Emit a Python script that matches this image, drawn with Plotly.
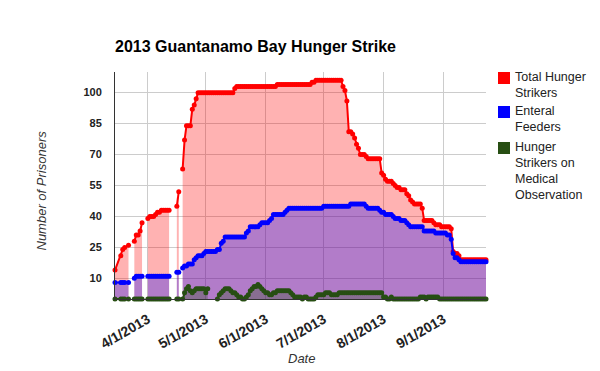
import plotly.graph_objects as go
import pandas as pd

# ---------------- data ----------------
early_dates = [
    "2013-03-15", "2013-03-18", "2013-03-19", "2013-03-20", "2013-03-22", "2013-03-23",
    "2013-03-25", "2013-03-26", "2013-03-27", "2013-03-28", "2013-03-29", "2013-03-30",
    "2013-04-01", "2013-04-02", "2013-04-03", "2013-04-04", "2013-04-05", "2013-04-06",
    "2013-04-07", "2013-04-08", "2013-04-09", "2013-04-10", "2013-04-11", "2013-04-12",
    "2013-04-13", "2013-04-16", "2013-04-17", "2013-04-18",
]
daily_dates = [d.strftime("%Y-%m-%d") for d in pd.date_range("2013-04-19", "2013-09-23")]
dates = early_dates + daily_dates

total_early = [14, 21, 24, 25, 26, None, 28, 31, 31, 33, 37, None,
               39, 40, 40, 40, 41, 42, 42, 43, 43, 43, 43, 43, None, 45, 52, None]
enteral_early = [8, 8, 8, 8, 8, None, 10, 11, 11, 11, 11, None,
                 11, 11, 11, 11, 11, 11, 11, 11, 11, 11, 11, 11, None, 13, 13, None]
medical_early = [0, 0, 0, 0, 0, None, 0, 0, 0, 0, 0, None,
                 0, 0, 0, 0, 0, 0, 0, 0, 0, 0, 0, 0, None, 0, 0, None]

total_apr = [63, 77, 84, 84, 84, 92, 94, 97, 100, 100, 100, 100]
total_may = [100, 100, 100, 100, 100, 100, 100, 100, 100, 100, 100, 100, 100, 100, 100, 102,
             103, 103, 103, 103, 103, 103, 103, 103, 103, 103, 103, 103, 103, 103, 103]
total_jun = [103, 103, 103, 103, 103, 103, 104, 104, 104, 104, 104, 104, 104, 104, 104, 104,
             104, 104, 104, 104, 104, 104, 104, 104, 105, 105, 106, 106, 106, 106]
total_jul = [106, 106, 106, 106, 106, 106, 106, 106, 106, 106, 103, 101, 96, 81, 81, 80,
             78, 75, 73, 70, 70, 70, 69, 68, 68, 68, 68, 68, 68, 68, 61]
total_aug = [60, 58, 57, 57, 57, 56, 55, 54, 54, 53, 53, 53, 51, 50, 48, 47,
             46, 46, 46, 46, 44, 38, 38, 38, 38, 38, 37, 36, 36, 36, 35]
total_sep = [35, 35, 35, 35, 34, 23, 22, 22, 21, 19, 19, 19, 19, 19, 19, 19,
             19, 19, 19, 19, 19, 19, 19]

enteral_apr = [15, 16, 16, 17, 17, 17, 19, 20, 21, 21, 21, 22]
enteral_may = [23, 23, 23, 23, 23, 23, 24, 24, 27, 28, 30, 30, 30, 30, 30, 30,
               30, 30, 30, 30, 30, 32, 33, 35, 35, 35, 35, 35, 36, 37, 37]
enteral_jun = [37, 37, 38, 39, 41, 41, 41, 41, 41, 41, 42, 43, 44, 44, 44, 44,
               44, 44, 44, 44, 44, 44, 44, 44, 44, 44, 44, 44, 44, 44]
enteral_jul = [45, 45, 45, 45, 45, 45, 45, 45, 45, 45, 45, 45, 45, 45, 46, 46,
               46, 46, 46, 46, 46, 46, 45, 44, 44, 44, 44, 44, 44, 43, 42]
enteral_aug = [42, 41, 41, 41, 41, 40, 39, 39, 39, 38, 38, 38, 37, 36, 35, 35,
               35, 35, 35, 35, 35, 33, 33, 33, 33, 33, 33, 32, 32, 32, 32]
enteral_sep = [32, 32, 31, 31, 29, 22, 20, 20, 19, 18, 18, 18, 18, 18, 18, 18,
               18, 18, 18, 18, 18, 18, 18]

medical_apr = [0, 3, 5, 6, 4, 3, 4, 5, 5, 5, 5, 5]
medical_may = [3, 5, None, None, None, None, 0, 2, 3, 4, 5, 5, 5, 4, 3, 3,
               2, 1, 1, 0, 0, 1, 2, 4, 5, 6, 6, 7, 6, 5, 4]
medical_jun = [3, 3, 2, 2, 3, 3, 4, 4, 4, 4, 4, 4, 4, 3, 2, 1,
               1, 1, 1, 0, 1, 1, 0, 0, 0, 0, 1, 2, 2, 2]
medical_jul = [2, 3, 3, 3, 2, 2, 2, 2, 3, 3, 3, 3, 3, 3, 3, 3,
               3, 3, 3, 3, 3, 3, 3, 3, 3, 3, 3, 3, 3, 3, 3]
medical_aug = [1, 1, 0, 0, 1, 0, 0, 0, 0, 0, 0, 0, 0, 0, 0, 0,
               0, 0, 0, 1, 1, 1, 0, 1, 1, 1, 1, 1, 1, 0, 0]
medical_sep = [0, 0, 0, 0, 0, 0, 0, 0, 0, 0, 0, 0, 0, 0, 0, 0,
               0, 0, 0, 0, 0, 0, 0]

total = total_early + total_apr + total_may + total_jun + total_jul + total_aug + total_sep
enteral = enteral_early + enteral_apr + enteral_may + enteral_jun + enteral_jul + enteral_aug + enteral_sep
medical = medical_early + medical_apr + medical_may + medical_jun + medical_jul + medical_aug + medical_sep

series_names = ["Total Hunger Strikers", "Enteral Feeders", "Hunger Strikers on Medical Observation"]
legend_lines = [["Total Hunger", "Strikers"], ["Enteral", "Feeders"],
                ["Hunger", "Strikers on", "Medical", "Observation"]]
series_colors = ["#ff0000", "#0000ff", "#274e13"]
fill_colors = ["rgba(255,0,0,0.3)", "rgba(0,0,255,0.3)", "rgba(39,78,19,0.3)"]

y_ticks = [10, 25, 40, 55, 70, 85, 100]
x_tick_vals = ["2013-04-01", "2013-05-01", "2013-06-01", "2013-07-01", "2013-08-01", "2013-09-01"]
x_tick_text = ["4/1/2013", "5/1/2013", "6/1/2013", "7/1/2013", "8/1/2013", "9/1/2013"]

# ---------------- figure ----------------
W, H = 600, 371
L, R, T, B = 115, 486, 72, 299


def px_x(p):
    return (p - L) / (R - L)


def px_y(p):
    return (B - p) / (B - T)


def split_segments(xs, ys):
    out, sx, sy = [], [], []
    for x, y in zip(xs, ys):
        if y is None:
            if sx:
                out.append((sx, sy))
            sx, sy = [], []
        else:
            sx.append(x)
            sy.append(y)
    if sx:
        out.append((sx, sy))
    return out


fig = go.Figure()
for vals, name, col, fcol in zip([total, enteral, medical], series_names, series_colors, fill_colors):
    for sx, sy in split_segments(dates, vals):
        fig.add_trace(go.Scatter(
            x=sx, y=sy, name=name, mode="lines+markers",
            line=dict(color=col, width=2),
            marker=dict(color=col, size=5),
            fill="tozeroy", fillcolor=fcol,
            showlegend=False, cliponaxis=False, hoverinfo="skip",
        ))

font_family = "Liberation Sans, Arial, sans-serif"

fig.update_layout(
    width=W, height=H,
    margin=dict(l=L, r=W - R, t=T, b=H - B),
    paper_bgcolor="white", plot_bgcolor="white",
    showlegend=False,
    title=dict(text="2013 Guantanamo Bay Hunger Strike",
               font=dict(family=font_family, size=16, color="#000000", weight="bold"),
               xref="paper", x=0, xanchor="left",
               yref="container", y=1 - 46 / H, yanchor="middle"),
    xaxis=dict(type="date", range=["2013-03-15", "2013-09-23"],
               tickvals=x_tick_vals, ticktext=x_tick_text, tickangle=-30,
               tickfont=dict(family=font_family, size=14, color="#222222", weight="bold"),
               showgrid=True, gridcolor="#cccccc", gridwidth=1,
               showline=True, linecolor="#333333", linewidth=1,
               zeroline=False, ticks="", ticklabelstandoff=6),
    yaxis=dict(range=[0, 110], tickvals=y_ticks,
               tickfont=dict(family=font_family, size=11, color="#222222", weight="bold"),
               showgrid=True, gridcolor="#cccccc", gridwidth=1,
               showline=True, linecolor="#333333", linewidth=1,
               zeroline=False, ticks="", ticklabelstandoff=10),
)

annotations = [
    dict(text="Number of Prisoners", textangle=-90, x=px_x(41), y=px_y(190.5),
         xref="paper", yref="paper", showarrow=False, xanchor="center", yanchor="middle",
         font=dict(family=font_family, size=13, color="#333333", style="italic")),
    dict(text="Date", x=px_x(301.5), y=px_y(358),
         xref="paper", yref="paper", showarrow=False, xanchor="center", yanchor="middle",
         font=dict(family=font_family, size=13, color="#333333", style="italic")),
]

shapes = []
box_tops = [72, 106, 142]
for col, top, lines in zip(series_colors, box_tops, legend_lines):
    shapes.append(dict(type="rect", xref="paper", yref="paper",
                       x0=px_x(498), x1=px_x(510), y0=px_y(top), y1=px_y(top + 12),
                       fillcolor=col, line=dict(width=0)))
    for k, line in enumerate(lines):
        annotations.append(dict(text=line, x=px_x(513), y=px_y(top + 5 + 16 * k),
                                xref="paper", yref="paper", showarrow=False,
                                xanchor="left", yanchor="middle",
                                font=dict(family=font_family, size=12.5, color="#222222")))

fig.update_layout(annotations=annotations, shapes=shapes)

fig.write_html("out.html")
